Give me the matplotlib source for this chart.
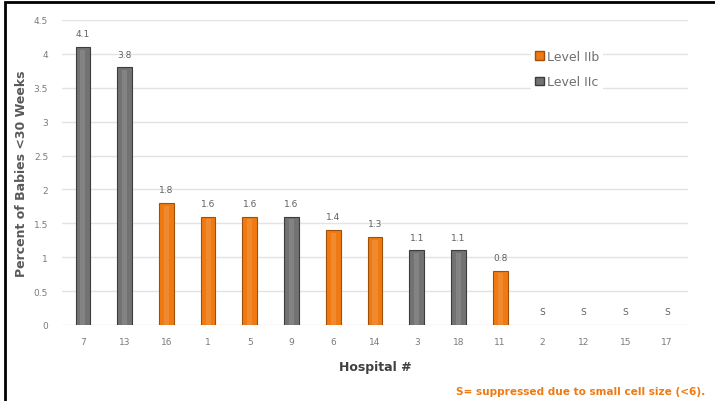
import numpy as np
import matplotlib.pyplot as plt
from matplotlib.patches import Rectangle, Patch

# hospitals in display order, percent of babies < 30 weeks (None = suppressed)
hospitals = ['7', '13', '16', '1', '5', '9', '6', '14', '3', '18', '11', '2', '12', '15', '17']
percent = [4.1, 3.8, 1.8, 1.6, 1.6, 1.6, 1.4, 1.3, 1.1, 1.1, 0.8, None, None, None, None]
level = ['IIc', 'IIc', 'IIb', 'IIb', 'IIb', 'IIc', 'IIb', 'IIb', 'IIc', 'IIc', 'IIb', None, None, None, None]

orange = '#f07a12'
grey = '#727272'
colors = {'IIb': orange, 'IIc': grey}
edges = {'IIb': '#a04f08', 'IIc': '#3c3c3c'}

fig = plt.figure(figsize=(7.15, 4.02), dpi=100)
ax = fig.add_axes([62 / 715, 1 - 326 / 402, 626 / 715, 305 / 402])

x = np.arange(len(hospitals))
for i, (v, lv) in enumerate(zip(percent, level)):
    if v is None:
        ax.text(i, 0.14, 'S', ha='center', va='bottom', fontsize=6.5, color='#606060')
        continue
    ax.bar(i, v, width=0.35, color=colors[lv], edgecolor=edges[lv], linewidth=0.8, zorder=3)
    # light strip down the middle for a rounded look
    ax.bar(i, v - 0.04, width=0.12, color='white', alpha=0.12, linewidth=0, zorder=4)
    ax.text(i, v + 0.13, f'{v:g}', ha='center', va='bottom', fontsize=6.5, color='#606060')

ax.set_xlim(-0.5, len(hospitals) - 0.5)
ax.set_ylim(0, 4.5)
ax.set_yticks(np.arange(0, 4.51, 0.5))
ax.set_yticklabels([f'{t:g}' for t in np.arange(0, 4.51, 0.5)])
ax.set_xticks(x)
ax.set_xticklabels(hospitals)
ax.tick_params(axis='both', length=0, labelsize=6.5, labelcolor='#7a7a7a')
ax.tick_params(axis='x', pad=9)
ax.tick_params(axis='y', pad=10)
ax.grid(axis='y', color='#e3e3e3', linewidth=1, zorder=0)
for s in ax.spines.values():
    s.set_visible(False)

ax.set_ylabel('Percent of Babies <30 Weeks', fontsize=9, fontweight='bold', color='#595959', labelpad=4)
ax.set_xlabel('Hospital #', fontsize=9, fontweight='semibold', color='#404040', labelpad=10)

handles = [Patch(facecolor=orange, edgecolor=edges['IIb']), Patch(facecolor=grey, edgecolor=edges['IIc'])]
leg = ax.legend(handles, ['Level IIb', 'Level IIc'], loc='upper left', bbox_to_anchor=(0.74, 0.935),
                frameon=True, fontsize=9, handlelength=0.7, handleheight=0.7, handletextpad=0.25,
                labelspacing=1.0, borderpad=0.3, labelcolor='#707070')
leg.get_frame().set_edgecolor('none')
leg.get_frame().set_facecolor('white')
leg.get_frame().set_alpha(1)

fig.text(705 / 715, 1 - 392 / 402, 'S= suppressed due to small cell size (<6).', ha='right', va='center',
         fontsize=7.6, fontweight='semibold', color=orange)

# outer frame
fig.patches.append(Rectangle((5 / 715, -0.05), 1.1, 1 - 3 / 402 + 0.05, transform=fig.transFigure,
                             fill=False, edgecolor='black', linewidth=2))

fig.savefig('out.png', dpi=100)
